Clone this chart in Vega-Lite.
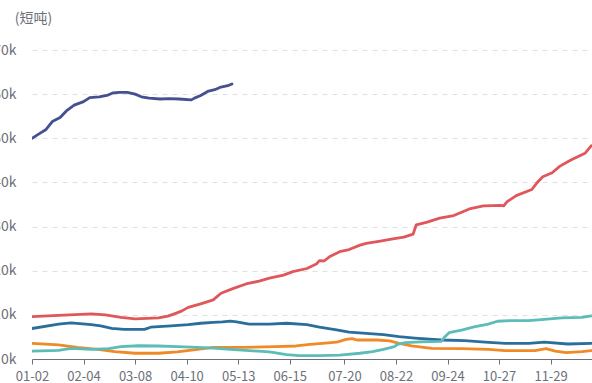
{
  "$schema": "https://vega.github.io/schema/vega-lite/v6.json",
  "autosize": {"type": "none"},
  "padding": {"left": 32, "top": 50, "right": 0, "bottom": 24},
  "width": 560,
  "height": 309,
  "background": "white",
  "config": {"view": {"stroke": null}, "font": "Noto Sans CJK SC"},
  "data": {"values": [
    {"s":"A","d":"2024-01-02","v":50000},{"s":"A","d":"2024-01-07","v":51100},{"s":"A","d":"2024-01-11","v":52000},{"s":"A","d":"2024-01-15","v":53800},{"s":"A","d":"2024-01-20","v":54700},{"s":"A","d":"2024-01-24","v":56200},{"s":"A","d":"2024-01-29","v":57500},{"s":"A","d":"2024-02-04","v":58300},{"s":"A","d":"2024-02-08","v":59200},{"s":"A","d":"2024-02-14","v":59400},{"s":"A","d":"2024-02-19","v":59700},{"s":"A","d":"2024-02-23","v":60300},{"s":"A","d":"2024-02-27","v":60400},{"s":"A","d":"2024-03-03","v":60400},{"s":"A","d":"2024-03-08","v":60000},{"s":"A","d":"2024-03-12","v":59400},{"s":"A","d":"2024-03-17","v":59100},{"s":"A","d":"2024-03-24","v":58900},{"s":"A","d":"2024-03-30","v":59000},{"s":"A","d":"2024-04-05","v":58900},{"s":"A","d":"2024-04-13","v":58700},{"s":"A","d":"2024-04-15","v":59100},{"s":"A","d":"2024-04-19","v":59700},{"s":"A","d":"2024-04-24","v":60700},{"s":"A","d":"2024-04-28","v":61000},{"s":"A","d":"2024-05-02","v":61600},{"s":"A","d":"2024-05-07","v":62000},{"s":"A","d":"2024-05-09","v":62300},
    {"s":"B","d":"2024-01-02","v":9600},{"s":"B","d":"2024-01-19","v":9900},{"s":"B","d":"2024-02-09","v":10200},{"s":"B","d":"2024-02-18","v":10000},{"s":"B","d":"2024-02-28","v":9450},{"s":"B","d":"2024-03-08","v":9100},{"s":"B","d":"2024-03-23","v":9300},{"s":"B","d":"2024-03-29","v":9700},{"s":"B","d":"2024-04-03","v":10350},{"s":"B","d":"2024-04-07","v":10900},{"s":"B","d":"2024-04-11","v":11700},{"s":"B","d":"2024-04-19","v":12500},{"s":"B","d":"2024-04-27","v":13400},{"s":"B","d":"2024-05-02","v":14900},{"s":"B","d":"2024-05-10","v":16000},{"s":"B","d":"2024-05-18","v":17000},{"s":"B","d":"2024-05-27","v":17700},{"s":"B","d":"2024-06-02","v":18300},{"s":"B","d":"2024-06-11","v":19000},{"s":"B","d":"2024-06-17","v":19800},{"s":"B","d":"2024-06-26","v":20500},{"s":"B","d":"2024-07-02","v":21500},{"s":"B","d":"2024-07-04","v":22300},{"s":"B","d":"2024-07-07","v":22200},{"s":"B","d":"2024-07-11","v":23300},{"s":"B","d":"2024-07-17","v":24300},{"s":"B","d":"2024-07-23","v":24800},{"s":"B","d":"2024-07-30","v":25800},{"s":"B","d":"2024-08-03","v":26200},{"s":"B","d":"2024-08-12","v":26700},{"s":"B","d":"2024-08-20","v":27200},{"s":"B","d":"2024-08-27","v":27600},{"s":"B","d":"2024-09-02","v":28300},{"s":"B","d":"2024-09-04","v":30400},{"s":"B","d":"2024-09-11","v":31000},{"s":"B","d":"2024-09-19","v":31900},{"s":"B","d":"2024-09-28","v":32500},{"s":"B","d":"2024-10-08","v":34000},{"s":"B","d":"2024-10-17","v":34700},{"s":"B","d":"2024-10-28","v":34800},{"s":"B","d":"2024-10-30","v":34700},{"s":"B","d":"2024-11-01","v":35600},{"s":"B","d":"2024-11-07","v":37000},{"s":"B","d":"2024-11-17","v":38400},{"s":"B","d":"2024-11-20","v":39800},{"s":"B","d":"2024-11-24","v":41300},{"s":"B","d":"2024-11-30","v":42200},{"s":"B","d":"2024-12-05","v":43700},{"s":"B","d":"2024-12-12","v":45100},{"s":"B","d":"2024-12-21","v":46600},{"s":"B","d":"2024-12-25","v":48300},
    {"s":"C","d":"2024-01-02","v":6900},{"s":"C","d":"2024-01-19","v":7900},{"s":"C","d":"2024-01-27","v":8200},{"s":"C","d":"2024-02-09","v":7800},{"s":"C","d":"2024-02-15","v":7500},{"s":"C","d":"2024-02-22","v":6950},{"s":"C","d":"2024-03-01","v":6700},{"s":"C","d":"2024-03-14","v":6700},{"s":"C","d":"2024-03-18","v":7200},{"s":"C","d":"2024-03-31","v":7500},{"s":"C","d":"2024-04-11","v":7800},{"s":"C","d":"2024-04-19","v":8100},{"s":"C","d":"2024-04-27","v":8300},{"s":"C","d":"2024-05-03","v":8400},{"s":"C","d":"2024-05-08","v":8600},{"s":"C","d":"2024-05-12","v":8400},{"s":"C","d":"2024-05-20","v":7900},{"s":"C","d":"2024-06-02","v":7900},{"s":"C","d":"2024-06-13","v":8100},{"s":"C","d":"2024-06-26","v":7800},{"s":"C","d":"2024-07-04","v":7200},{"s":"C","d":"2024-07-15","v":6600},{"s":"C","d":"2024-07-23","v":6100},{"s":"C","d":"2024-08-03","v":5800},{"s":"C","d":"2024-08-14","v":5500},{"s":"C","d":"2024-08-24","v":5050},{"s":"C","d":"2024-09-03","v":4750},{"s":"C","d":"2024-09-20","v":4300},{"s":"C","d":"2024-10-05","v":4150},{"s":"C","d":"2024-10-18","v":3800},{"s":"C","d":"2024-10-31","v":3550},{"s":"C","d":"2024-11-15","v":3550},{"s":"C","d":"2024-11-25","v":3800},{"s":"C","d":"2024-12-10","v":3400},{"s":"C","d":"2024-12-25","v":3550},
    {"s":"D","d":"2024-01-02","v":3550},{"s":"D","d":"2024-01-19","v":3200},{"s":"D","d":"2024-01-31","v":2650},{"s":"D","d":"2024-02-13","v":2200},{"s":"D","d":"2024-02-24","v":1650},{"s":"D","d":"2024-03-08","v":1300},{"s":"D","d":"2024-03-23","v":1300},{"s":"D","d":"2024-04-04","v":1600},{"s":"D","d":"2024-04-17","v":2200},{"s":"D","d":"2024-04-27","v":2650},{"s":"D","d":"2024-05-16","v":2650},{"s":"D","d":"2024-06-06","v":2800},{"s":"D","d":"2024-06-19","v":2950},{"s":"D","d":"2024-06-28","v":3300},{"s":"D","d":"2024-07-06","v":3550},{"s":"D","d":"2024-07-15","v":3800},{"s":"D","d":"2024-07-21","v":4450},{"s":"D","d":"2024-07-25","v":4600},{"s":"D","d":"2024-07-28","v":4300},{"s":"D","d":"2024-08-10","v":4300},{"s":"D","d":"2024-08-18","v":4100},{"s":"D","d":"2024-08-24","v":3550},{"s":"D","d":"2024-09-01","v":2950},{"s":"D","d":"2024-09-14","v":2400},{"s":"D","d":"2024-10-03","v":2350},{"s":"D","d":"2024-10-20","v":2200},{"s":"D","d":"2024-10-31","v":1900},{"s":"D","d":"2024-11-19","v":1900},{"s":"D","d":"2024-11-26","v":2350},{"s":"D","d":"2024-12-02","v":1800},{"s":"D","d":"2024-12-09","v":1450},{"s":"D","d":"2024-12-19","v":1650},{"s":"D","d":"2024-12-25","v":1900},
    {"s":"E","d":"2024-01-02","v":1800},{"s":"E","d":"2024-01-19","v":1950},{"s":"E","d":"2024-01-27","v":2400},{"s":"E","d":"2024-02-09","v":2200},{"s":"E","d":"2024-02-20","v":2350},{"s":"E","d":"2024-02-28","v":2800},{"s":"E","d":"2024-03-10","v":3000},{"s":"E","d":"2024-03-23","v":2950},{"s":"E","d":"2024-04-04","v":2800},{"s":"E","d":"2024-04-17","v":2650},{"s":"E","d":"2024-04-27","v":2450},{"s":"E","d":"2024-05-08","v":2200},{"s":"E","d":"2024-05-20","v":1900},{"s":"E","d":"2024-06-02","v":1600},{"s":"E","d":"2024-06-13","v":1000},{"s":"E","d":"2024-06-21","v":750},{"s":"E","d":"2024-07-04","v":750},{"s":"E","d":"2024-07-17","v":900},{"s":"E","d":"2024-07-30","v":1300},{"s":"E","d":"2024-08-07","v":1650},{"s":"E","d":"2024-08-14","v":2200},{"s":"E","d":"2024-08-21","v":2800},{"s":"E","d":"2024-08-23","v":3300},{"s":"E","d":"2024-08-28","v":3700},{"s":"E","d":"2024-09-07","v":3900},{"s":"E","d":"2024-09-20","v":4000},{"s":"E","d":"2024-09-22","v":4900},{"s":"E","d":"2024-09-25","v":5950},{"s":"E","d":"2024-10-03","v":6550},{"s":"E","d":"2024-10-11","v":7300},{"s":"E","d":"2024-10-20","v":7900},{"s":"E","d":"2024-10-26","v":8550},{"s":"E","d":"2024-11-04","v":8700},{"s":"E","d":"2024-11-15","v":8700},{"s":"E","d":"2024-11-25","v":9000},{"s":"E","d":"2024-12-06","v":9300},{"s":"E","d":"2024-12-19","v":9450},{"s":"E","d":"2024-12-25","v":9750}
  ]},
  "mark": {"type": "line", "strokeWidth": 2.8, "clip": true, "strokeJoin": "round", "strokeCap": "round"},
  "encoding": {
    "x": {
      "field": "d", "type": "temporal",
      "scale": {"type": "utc", "domain": [{"year": 2024, "month": 1, "date": 2, "utc": true}, {"year": 2024, "month": 12, "date": 25, "hours": 12, "utc": true}]},
      "axis": {
        "title": null,
        "labelExpr": "utcFormat(datum.value, '%m-%d')",
        "values": [
          {"year": 2024, "month": 1, "date": 2, "utc": true},
          {"year": 2024, "month": 2, "date": 4, "utc": true},
          {"year": 2024, "month": 3, "date": 8, "utc": true},
          {"year": 2024, "month": 4, "date": 10, "utc": true},
          {"year": 2024, "month": 5, "date": 13, "utc": true},
          {"year": 2024, "month": 6, "date": 15, "utc": true},
          {"year": 2024, "month": 7, "date": 20, "utc": true},
          {"year": 2024, "month": 8, "date": 22, "utc": true},
          {"year": 2024, "month": 9, "date": 24, "utc": true},
          {"year": 2024, "month": 10, "date": 27, "utc": true},
          {"year": 2024, "month": 11, "date": 29, "utc": true}
        ],
        "grid": false,
        "domainColor": "#6E7079", "tickColor": "#6E7079", "tickSize": 5,
        "labelColor": "#6E7079", "labelFontSize": 13, "labelPadding": 6,
        "labelFont": "Noto Sans CJK SC", "labelFlush": false, "labelOverlap": false
      }
    },
    "y": {
      "field": "v", "type": "quantitative",
      "scale": {"domain": [0, 70000], "nice": false, "zero": true},
      "axis": {
        "values": [0, 10000, 20000, 30000, 40000, 50000, 60000, 70000],
        "format": "~s",
        "domain": false, "ticks": false,
        "grid": true, "gridColor": "#E0E0E0", "gridDash": [5, 5], "gridWidth": 1,
        "labelColor": "#6E7079", "labelFontSize": 14, "labelPadding": 16,
        "labelFont": "Noto Sans CJK SC",
        "title": "(短吨)", "titleAngle": 0, "titleAlign": "center", "titleBaseline": "middle",
        "titleX": 1, "titleY": -32, "titleColor": "#6E7079", "titleFontSize": 14,
        "titleFontWeight": "normal", "titleFont": "Noto Sans CJK SC"
      }
    },
    "color": {
      "field": "s", "type": "nominal", "legend": null,
      "scale": {"domain": ["A", "B", "C", "D", "E"], "range": ["#44508f", "#e0575b", "#2a6e9c", "#f08a24", "#5bbcb8"]}
    }
  }
}
